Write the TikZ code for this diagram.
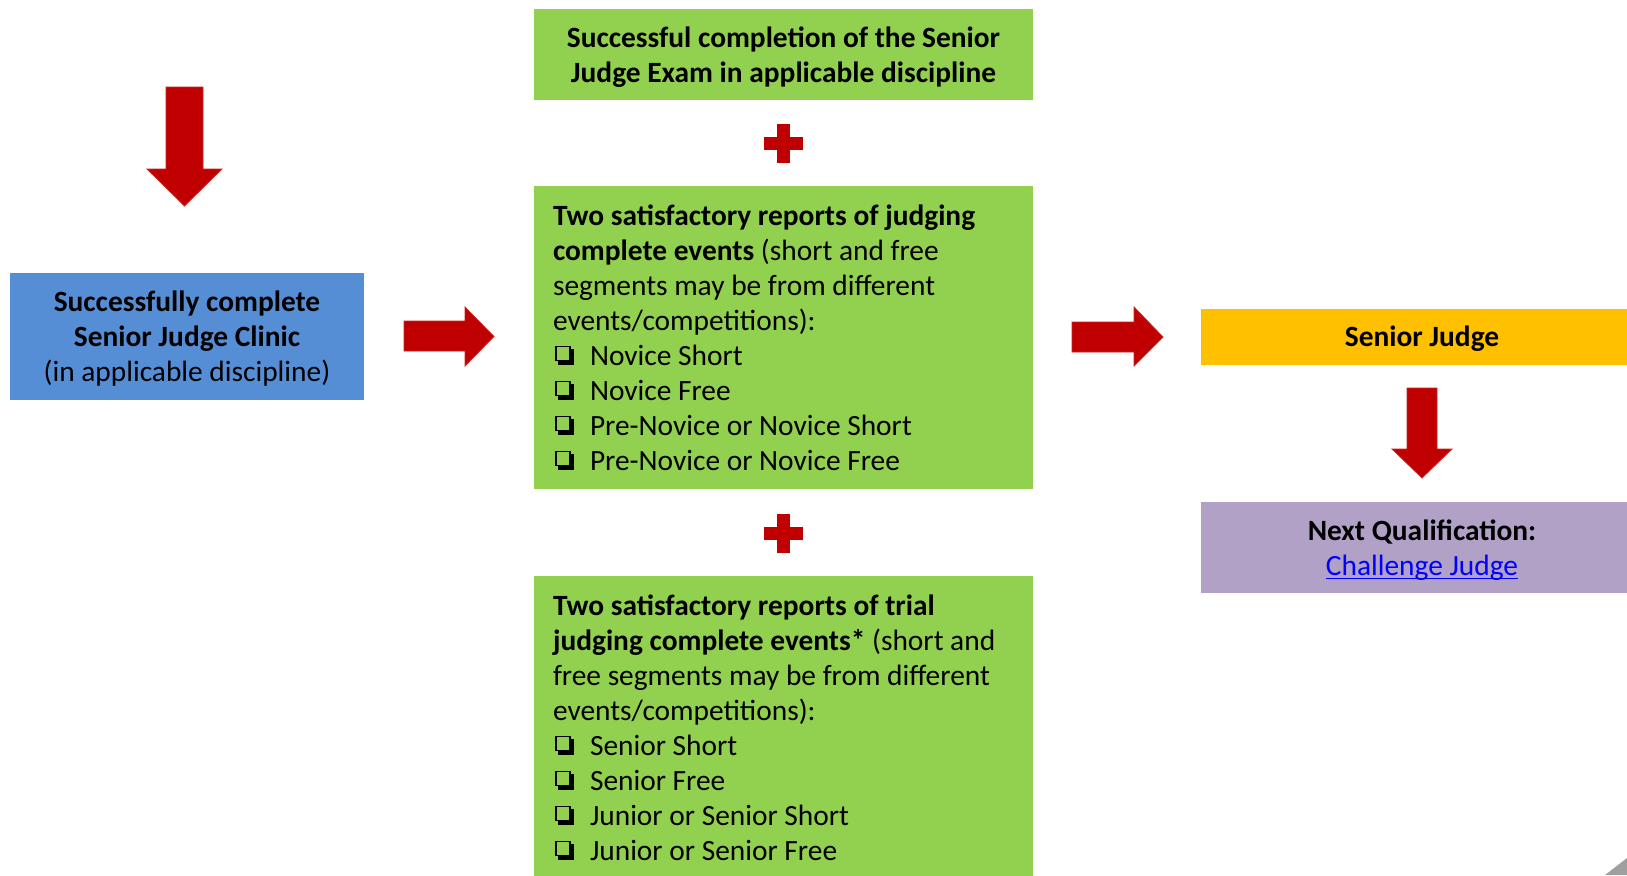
\documentclass[tikz,border=0pt]{standalone}
\usepackage{fontspec}
\setmainfont{Carlito}
\definecolor{cred}{HTML}{C00000}
\definecolor{cgreen}{HTML}{92D050}
\definecolor{cblue}{HTML}{558ED5}
\definecolor{corange}{HTML}{FFC000}
\definecolor{cpurple}{HTML}{B1A1C7}
\definecolor{clink}{HTML}{0000FF}
\newcommand\fl{\rule{0pt}{15pt}}
% shadowed check box built from rules
\newcommand\cbx{\hbox{\kern1pt
  \rlap{\rule[1.8pt]{0.75pt}{7.8pt}}%
  \rlap{\rule[8.85pt]{7.8pt}{0.75pt}}%
  \rlap{\kern7.05pt\rule[1.8pt]{0.75pt}{7.8pt}}%
  \rlap{\rule[1.8pt]{7.8pt}{0.75pt}}%
  \rlap{\kern1.5pt\rule[0pt]{8pt}{2.1pt}}%
  \rlap{\kern7.3pt\rule[0pt]{2.2pt}{8.1pt}}%
  \kern17.5pt}}
\newcommand\myul[1]{\setbox0\hbox{#1}\rlap{\rule[-2.2pt]{\wd0}{0.7pt}}\box0}
\tikzset{
  boxnode/.style={draw=none, inner sep=0pt, outer sep=0pt, anchor=north west},
  txt/.style={inner sep=0pt, outer sep=0pt, font=\fontsize{14.7pt}{17.5pt}\selectfont},
  blockarrow/.style={fill=cred, draw=cred!85!white, line width=0.4pt},
}
\begin{document}
\begin{tikzpicture}[x=0.5pt,y=-0.5pt]
\clip (0,0) rectangle (1627,875);
\fill[white] (0,0) rectangle (1627,875);

% boxes
\node[boxnode, fill=cgreen, minimum width=249.5pt, minimum height=45.5pt] (exam) at (534,9) {};
\node[boxnode, fill=cgreen, minimum width=249.5pt, minimum height=151.5pt] (reports) at (534,186) {};
\node[boxnode, fill=cgreen, minimum width=249.5pt, minimum height=157pt] (trial) at (534,576) {};
\node[boxnode, fill=cblue, minimum width=177pt, minimum height=63.5pt] (clinic) at (10,273) {};
\node[boxnode, fill=corange, minimum width=221pt, minimum height=28pt] (senior) at (1201,309) {};
\node[boxnode, fill=cpurple, minimum width=221pt, minimum height=45.5pt] (next) at (1201,502) {};

% texts
\node[txt, anchor=north, align=center] (examtxt) at (783.5,17)
  {\bfseries\fl Successful completion of the Senior\\ \bfseries Judge Exam in applicable discipline};

\node[txt, anchor=north west, align=left] (reportstxt) at (553,195)
  {\fl\textbf{Two satisfactory reports of judging}\\
   \textbf{complete events} (short and free\\
   segments may be from different\\
   events/competitions):\\
   \cbx Novice Short\\
   \cbx Novice Free\\
   \cbx Pre-Novice or Novice Short\\
   \cbx Pre-Novice or Novice Free};

\node[txt, anchor=north west, align=left] (trialtxt) at (553,585)
  {\fl\textbf{Two satisfactory reports of trial}\\
   \textbf{judging complete events*} (short and\\
   free segments may be from different\\
   events/competitions):\\
   \cbx Senior Short\\
   \cbx Senior Free\\
   \cbx Junior or Senior Short\\
   \cbx Junior or Senior Free};

\node[txt, anchor=north, align=center] (clinictxt) at (187,281)
  {\fl\textbf{Successfully complete}\\ \textbf{Senior Judge Clinic}\\ (in applicable discipline)};

\node[txt, anchor=north, align=center] (seniortxt) at (1422,316)
  {\fl\textbf{Senior Judge}};

\node[txt, anchor=north, align=center] (nexttxt) at (1422,510)
  {\fl\textbf{Next Qualification:}\\ \textcolor{clink}{\myul{Challenge Judge}}};

% block arrows
\fill[blockarrow] (166,87) -- (203,87) -- (203,169) -- (222,169) -- (184.5,206) -- (147,169) -- (166,169) -- cycle;
\fill[blockarrow] (404,321) -- (465,321) -- (465,307) -- (494,336.5) -- (465,366) -- (465,351) -- (404,351) -- cycle;
\fill[blockarrow] (1072,322) -- (1134,322) -- (1134,307) -- (1163,337) -- (1134,366) -- (1134,352) -- (1072,352) -- cycle;
\fill[blockarrow] (1407,388) -- (1437,388) -- (1437,449) -- (1452,449) -- (1422,478) -- (1392,449) -- (1407,449) -- cycle;

% plus signs
\foreach \cy in {143,533}{
  \fill[cred] (764,\cy-6.5) rectangle (803,\cy+6.5);
  \fill[cred] (777,\cy-19.5) rectangle (790,\cy+19.5);
}

% corner artefact
\fill[gray!75] (1605,875) -- (1627,858) -- (1627,875) -- cycle;
\end{tikzpicture}
\end{document}
